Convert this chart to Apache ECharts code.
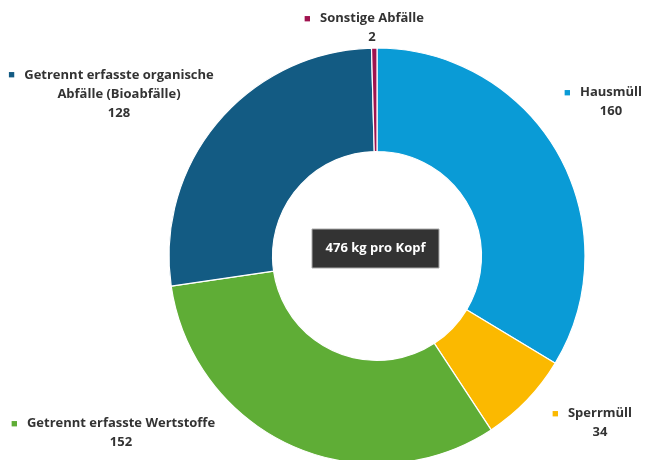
<!DOCTYPE html>
<html><head><meta charset="utf-8">
<script src="https://cdn.jsdelivr.net/npm/echarts@6/dist/echarts.min.js"></script>
<style>html,body{margin:0;padding:0;background:#fff}#c{width:648px;height:460px}</style>
</head><body><div id="c"></div>
<script>
const categories = ['Hausmüll', 'Sperrmüll', 'Getrennt erfasste Wertstoffe', 'Getrennt erfasste organische\nAbfälle (Bioabfälle)', 'Sonstige Abfälle'];
const values = [160, 34, 152, 128, 2];
const colors = ['#0a9bd6', '#fbb900', '#5fad36', '#135b83', '#a0134f'];
const centerText = '476 kg pro Kopf';
// label anchor positions (text block centres)
const labelPos = [[611, 102], [600, 423], [121, 433], [119, 94], [372, 28]];

const chart = echarts.init(document.getElementById('c'));
const FONT = '"Open Sans"';
chart.setOption({
  animation: false,
  series: [{
    type: 'pie',
    center: [377, 256],
    radius: [104.5, 208],
    startAngle: 90,
    clockwise: true,
    avoidLabelOverlap: false,
    itemStyle: { borderColor: '#fff', borderWidth: 1.2 },
    label: {
      show: true,
      position: 'outside',
      fontFamily: FONT,
      formatter: function (p) {
        const lines = p.name.split('\n');
        let s = '{sq|■}{t|' + lines[0] + '}{sp|}';
        for (let i = 1; i < lines.length; i++) s += '\n{t|' + lines[i] + '}';
        s += '\n{t|' + p.value + '}';
        return s;
      },
      align: 'center',
      lineHeight: 19,
      rich: {
        sq: { fontSize: 11, width: 16, align: 'left', fontFamily: FONT, lineHeight: 19 },
        sp: { width: 16, lineHeight: 19 },
        t: { fontSize: 13, fontWeight: 'bold', color: '#333', fontFamily: FONT, lineHeight: 19 }
      }
    },
    labelLine: { show: false },
    labelLayout: function (params) {
      const pos = labelPos[params.dataIndex];
      return { x: pos[0], y: pos[1], align: 'center', verticalAlign: 'middle' };
    },
    data: categories.map((c, i) => ({
      name: c, value: values[i],
      itemStyle: { color: colors[i] },
      label: { rich: { sq: { color: colors[i] } } }
    }))
  }],
  graphic: [{
    type: 'group',
    x: 375.5, y: 248.5,
    children: [{
      type: 'rect',
      shape: { x: -63.5, y: -19.5, width: 127, height: 39 },
      style: { fill: '#333', stroke: '#aaa', lineWidth: 1 }
    }, {
      type: 'text',
      x: 0, y: 0,
      style: {
        text: centerText,
        fill: '#fff',
        font: 'bold 13px ' + FONT,
        align: 'center',
        verticalAlign: 'middle'
      }
    }]
  }]
});
</script></body></html>
